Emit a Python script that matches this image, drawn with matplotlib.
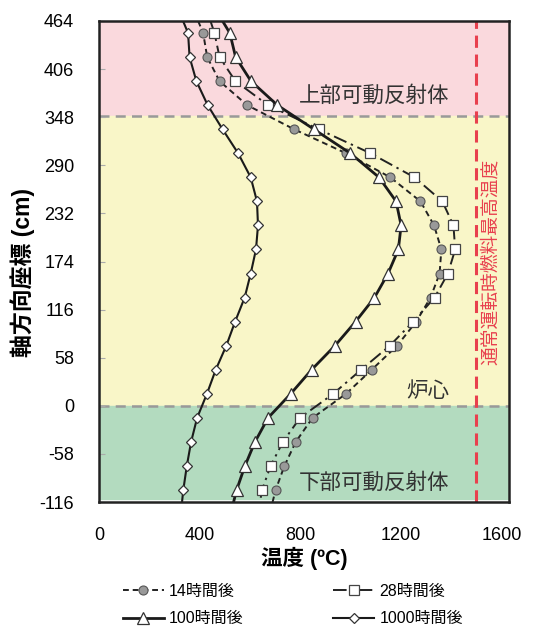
import matplotlib
matplotlib.use("Agg")
import matplotlib.pyplot as plt

plt.rcParams['font.family'] = ['Liberation Sans', 'Noto Sans CJK JP']
plt.rcParams['axes.unicode_minus'] = False

# axial coordinate of the data points (cm)
z = [449.5, 420.5, 391.5, 362.5, 333.5, 304.5, 275.5, 246.5, 217.5, 188.5,
     159.5, 130.5, 101.5, 72.5, 43.5, 14.5, -14.5, -43.5, -72.5, -101.5]
z_top, z_bot = 464, -116

# temperatures (degC)
t14 = [414, 430, 479, 589, 775, 982, 1158, 1278, 1332, 1361,
       1354, 1318, 1261, 1185, 1084, 982, 849, 782, 737, 702]
t28 = [459, 479, 542, 672, 873, 1079, 1254, 1365, 1409, 1416,
       1387, 1334, 1249, 1156, 1042, 931, 799, 731, 682, 648]
t100 = [520, 543, 604, 709, 854, 999, 1113, 1181, 1201, 1190,
        1149, 1095, 1020, 938, 845, 762, 672, 620, 580, 547]
t1000 = [354, 360, 387, 432, 491, 553, 603, 628, 632, 624,
         603, 579, 541, 506, 464, 429, 390, 366, 349, 335]
# where the curves leave the plot at top / bottom
edge_top = {'14': 394, '28': 443, '100': 491, '1000': 334}
edge_bot = {'14': 690, '28': 640, '100': 535, '1000': 330}

labels = ['14時間後', '28時間後', '100時間後', '1000時間後']
max_fuel_temp = 1500
upper_boundary = 350

fig = plt.figure(figsize=(5.37, 6.26), dpi=100)
ax = fig.add_axes([0.1844, 0.198, 0.7635, 0.7685])

# regions
ax.axhspan(upper_boundary, z_top, color='#fad9dd', zorder=0)
ax.axhspan(0, upper_boundary, color='#f9f6c8', zorder=0)
ax.axhspan(-112, 0, color='#b3dbbf', zorder=0)
ax.axhline(upper_boundary, color='#999999', lw=1.8, dashes=(4, 2.5), zorder=1)
ax.axhline(0, color='#999999', lw=1.8, dashes=(4, 2.5), zorder=1)
ax.axvline(max_fuel_temp, color='#e8404e', lw=2.2, dashes=(4, 2.2), zorder=1)

def full(key, t):
    return [edge_top[key]] + t + [edge_bot[key]], [z_top] + z + [z_bot]

mk = slice(1, -1)
x, y = full('14', t14)
l14, = ax.plot(x, y, color='#222222', lw=1.4, dashes=(3, 2), marker='o', ms=6.5,
               mfc='#999999', mec='#555555', mew=0.8, markevery=mk, label=labels[0], zorder=3)
x, y = full('28', t28)
l28, = ax.plot(x, y, color='#222222', lw=1.4, dashes=(7, 2.5, 1.2, 2.5), marker='s', ms=6.5,
               mfc='white', mec='#444444', mew=0.9, markevery=mk, label=labels[1], zorder=3)
x, y = full('100', t100)
l100, = ax.plot(x, y, color='#1a1a1a', lw=2.0, marker='^', ms=8.5,
                mfc='white', mec='#333333', mew=0.9, markevery=mk, label=labels[2], zorder=4)
x, y = full('1000', t1000)
l1000, = ax.plot(x, y, color='#1a1a1a', lw=1.5, marker='D', ms=5.5,
                 mfc='white', mec='#333333', mew=0.9, markevery=mk, label=labels[3], zorder=4)

# region labels
ax.text(1093, 373, '上部可動反射体', fontsize=15.5, color='#333333', ha='center', va='center')
ax.text(1308, 17, '炉心', fontsize=15.5, color='#333333', ha='center', va='center')
ax.text(1093, -93, '下部可動反射体', fontsize=15.5, color='#333333', ha='center', va='center')
ax.text(1560, 174, '通常運転時燃料最高温度', fontsize=13.5, color='#e8404e',
        rotation=90, ha='center', va='center')

ax.set_xlim(0, 1630)
ax.set_ylim(z_bot, z_top)
ax.set_xticks([0, 400, 800, 1200, 1600])
ax.set_yticks([464, 406, 348, 290, 232, 174, 116, 58, 0, -58, -116])
ax.tick_params(axis='y', direction='in', length=4, color='#aaaaaa', labelsize=13, pad=18)
ax.tick_params(axis='x', length=0, labelsize=13, pad=18)
for s in ax.spines.values():
    s.set_linewidth(1.8)
    s.set_color('#222222')
    s.set_zorder(5)

ax.set_xlabel('温度 (ºC)', fontsize=15.5, fontweight='bold', labelpad=2)
ax.set_ylabel('軸方向座標 (cm)', fontsize=16.5, fontweight='bold')
ax.yaxis.set_label_coords(-0.155, 0.478)

# row order: 14h, 28h / 100h, 1000h
fig.legend([l14, l100, l28, l1000], [labels[0], labels[2], labels[1], labels[3]],
           loc='center', bbox_to_anchor=(0.545, 0.0335), ncol=2, frameon=False,
           fontsize=11.5, handlelength=2.6, columnspacing=5.6, labelspacing=0.8,
           handletextpad=0.3, numpoints=1)

fig.savefig('out.png', dpi=100)
